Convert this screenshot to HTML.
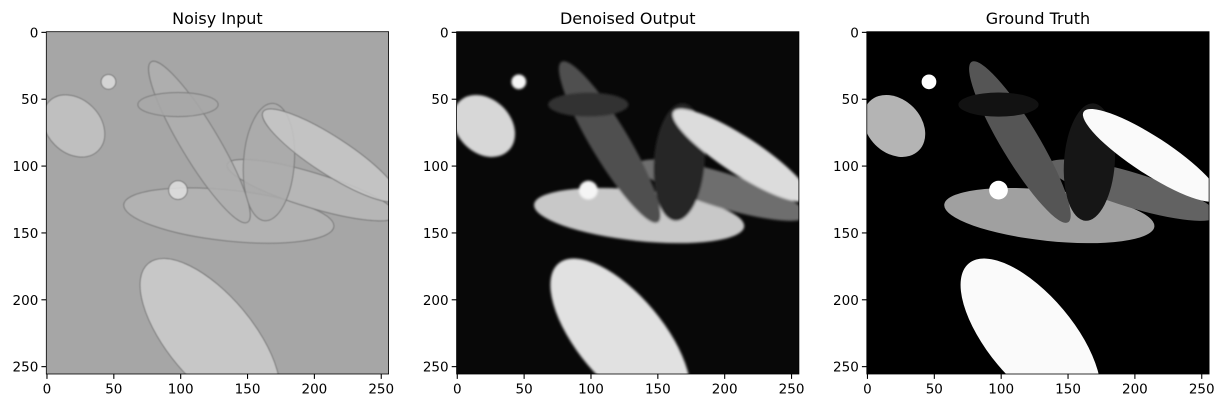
<!DOCTYPE html>
<html><head><meta charset="utf-8">
<style>
html,body{margin:0;padding:0;background:#fff;overflow:hidden;width:1224px;height:407px;}
svg{display:block;font-family:"DejaVu Sans","Liberation Sans",sans-serif;}
</style></head>
<body>
<svg id="fig" width="1224" height="407" viewBox="0 0 1224 407" xmlns="http://www.w3.org/2000/svg">
<defs>
<filter id="blur2" x="-20%" y="-20%" width="140%" height="140%"><feGaussianBlur stdDeviation="1.2"/></filter>
<filter id="blur1" x="-20%" y="-20%" width="140%" height="140%"><feGaussianBlur stdDeviation="0.6"/></filter>
</defs>
</svg>
<script>
// panel titles and axis ticks
const titles = ["Noisy Input", "Denoised Output", "Ground Truth"];
const ticks = [0, 50, 100, 150, 200, 250];
// ellipses: [cx, cy, rx, ry, angleDeg] in image pixel coordinates (0-255)
const shapeNames = ["left-ellipse","long-diagonal-ellipse","band-ellipse","big-light-ellipse","vertical-dark-ellipse","horizontal-dark-ellipse","white-diagonal-ellipse","bottom-white-ellipse","small-circle-top","small-circle-mid"];
const shapeGeom = [
  [20,70,26,20,45],
  [114,82,70,14,59],
  [198,118,66,13,17],
  [136,137,79,19,6],
  [166,97,19,44,4],
  [98,54,30,9,0],
  [212,92,60,14,33],
  [122,228,72,32,50],
  [46,37,5.5,5.5,0],
  [98,118,7,7,0]
];
// draw order indexes
const drawOrder = [0,3,2,1,5,4,6,7,8,9];
// gray levels per panel (0-255)
const grayNoisy = [195,175,185,180,172,168,200,205,220,225];
const grayDenoised = [215,80,110,200,40,50,220,225,245,245];
const grayTruth = [180,85,98,160,22,18,250,250,255,255];
const bgGray = [166, 8, 0];
const panelGrays = [grayNoisy, grayDenoised, grayTruth];

const svg = document.getElementById('fig');
const NS = 'http://www.w3.org/2000/svg';
const lefts = [46.3, 456.6, 866.8];
const top0 = 31.7, size = 342.3, N = 256;
const sc = size / N;
function gx(p, v){ return lefts[p] + (v + 0.5) * sc; }
function gy(v){ return top0 + (v + 0.5) * sc; }
function mk(tag, attrs){ const e = document.createElementNS(NS, tag); for (const k in attrs) e.setAttribute(k, attrs[k]); return e; }
function g2(v){ return 'rgb(' + v + ',' + v + ',' + v + ')'; }

for (let p = 0; p < 3; p++) {
  const grp = mk('g', {});
  
  
  svg.appendChild(grp);
  const t = mk('text', {x: lefts[p] + size/2, y: 24, 'text-anchor': 'middle', 'font-size': 16, fill: '#000'});
  t.textContent = titles[p];
  
  
  grp.appendChild(t);
  const bg = mk('rect', {x: lefts[p], y: top0, width: size, height: size, fill: g2(bgGray[p])});
  
  
  grp.appendChild(bg);
  const cp = mk('clipPath', {id: 'clip' + p});
  cp.appendChild(mk('rect', {x: lefts[p], y: top0, width: size, height: size}));
  svg.querySelector('defs').appendChild(cp);
  const img = mk('g', {'clip-path': 'url(#clip' + p + ')'});
  if (p === 1) img.setAttribute('filter', 'url(#blur2)');
  if (p === 0) img.setAttribute('filter', 'url(#blur1)');
  grp.appendChild(img);
  for (const i of drawOrder) {
    const s = shapeGeom[i];
    const cx = gx(p, s[0]), cy = gy(s[1]);
    const e = mk('ellipse', {cx: cx, cy: cy, rx: s[2]*sc, ry: s[3]*sc, transform: 'rotate(' + s[4] + ' ' + cx + ' ' + cy + ')', fill: g2(panelGrays[p][i])});
    if (p === 0) { e.setAttribute('stroke', '#7a7a7a'); e.setAttribute('stroke-width', '1'); e.setAttribute('fill-opacity', '0.85'); }
    
    
    img.appendChild(e);
  }
  const fr = mk('rect', {x: lefts[p], y: top0, width: size, height: size, fill: 'none', stroke: '#000', 'stroke-width': 0.8});
  
  
  grp.appendChild(fr);
  for (const v of ticks) {
    const x = gx(p, v), y = gy(v);
    const bx = top0 + size;
    const tl = mk('line', {x1: x, y1: bx, x2: x, y2: bx + 4.9, stroke: '#000', 'stroke-width': 1.1});
    
    
    grp.appendChild(tl);
    const xl = mk('text', {x: x, y: bx + 19.5, 'text-anchor': 'middle', 'font-size': 13.5, fill: '#000'});
    xl.textContent = v;
    
    
    grp.appendChild(xl);
    const yt = mk('line', {x1: lefts[p] - 4.9, y1: y, x2: lefts[p], y2: y, stroke: '#000', 'stroke-width': 1.1});
    
    
    grp.appendChild(yt);
    const yl = mk('text', {x: lefts[p] - 8, y: y + 5, 'text-anchor': 'end', 'font-size': 13.5, fill: '#000'});
    yl.textContent = v;
    
    
    grp.appendChild(yl);
  }
}
</script>
</body></html>
